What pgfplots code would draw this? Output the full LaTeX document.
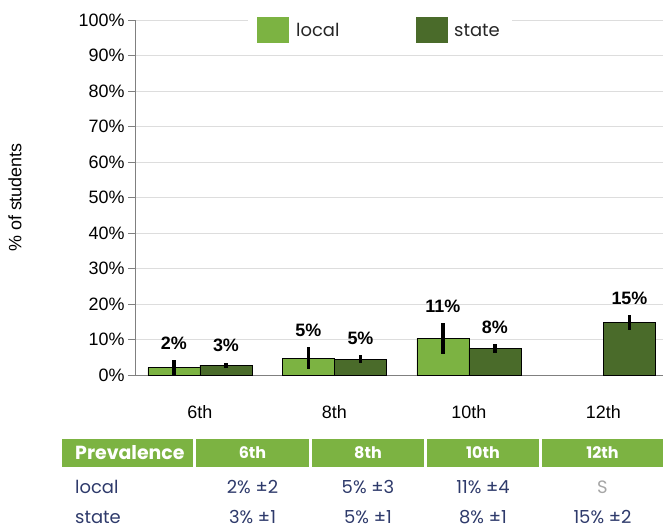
\documentclass[border=0pt]{standalone}
\usepackage{pgfplots}
\pgfplotsset{compat=1.18}
\usepackage{fontspec}
\setmainfont{Liberation Sans}
\newfontfamily\gothic{Poppins}
\definecolor{localc}{HTML}{7CB342}
\definecolor{statec}{HTML}{4A6B2A}
\definecolor{navy}{HTML}{2E3A6B}
\definecolor{axgray}{HTML}{808080}
\definecolor{gridc}{HTML}{DDDDDD}
\begin{document}
\begin{tikzpicture}[x=1bp,y=1bp]
\begin{axis}[at={(135bp,154bp)}, anchor=south west, scale only axis,
  width=528bp, height=355bp,
  xmin=-0.483, xmax=3.443, ymin=0, ymax=100,
  axis x line=bottom, axis y line=left,
  axis line style={draw=axgray, -},
  ytick={0,10,...,100},
  yticklabels={0\%,10\%,20\%,30\%,40\%,50\%,60\%,70\%,80\%,90\%,100\%},
  xtick={0,1,2,3}, xticklabels={6th,8th,10th,12th},
  major x tick style={draw=none},
  tick align=outside, major tick length=7bp,
  y tick style={draw=axgray},
  ymajorgrids, grid style={draw=gridc, line width=0.8bp},
  tick label style={font=\fontsize{18}{20}\selectfont},
  xticklabel style={yshift=-20bp},
  ylabel={\% of students},
  every axis y label/.style={at={(rel axis cs:-0.2273,0.5)}, rotate=90, anchor=center,
     font=\fontsize{18}{20}\selectfont},
  clip=false,
]
\addplot[ybar, bar width=52bp, bar shift=-26bp, fill=localc, draw=black, line width=0.8bp]
  coordinates {(0,2.1) (1,4.7) (2,10.3)};
\addplot[ybar, bar width=52bp, bar shift=26bp, fill=statec, draw=black, line width=0.8bp]
  coordinates {(0,2.8) (1,4.5) (2,7.5) (3,14.8)};
% error bars (at bar centres)
\addplot[draw=none, mark=none,
  error bars/.cd, y dir=both, y explicit, error mark=none,
  error bar style={line width=3.5bp, black}]
  coordinates {(-0.1934,2.1) +- (0,2.0) (0.8066,4.7) +- (0,3.1) (1.8066,10.3) +- (0,4.3)};
\addplot[draw=none, mark=none,
  error bars/.cd, y dir=both, y explicit, error mark=none,
  error bar style={line width=3.5bp, black}]
  coordinates {(0.1934,2.8) +- (0,0.7) (1.1934,4.5) +- (0,1.0) (2.1934,7.5) +- (0,1.2) (3.1934,14.8) +- (0,2.0)};
\addplot[draw=none, mark=none, nodes near coords, point meta=explicit symbolic,
  nodes near coords style={font=\bfseries\fontsize{18}{20}\selectfont, anchor=center, yshift=17bp}]
  coordinates {(-0.1934,4.1) [2\%] (0.1934,3.5) [3\%] (0.8066,7.8) [5\%] (1.1934,5.5) [5\%]
               (1.8066,14.6) [11\%] (2.1934,8.7) [8\%] (3.1934,16.8) [15\%]};
\end{axis}
% legend
\fill[white] (248,481) rectangle (512,517);
\fill[localc] (257,486) rectangle (289,512);
\node[anchor=west, inner sep=0, font=\gothic\fontsize{18}{20}\selectfont, text=black!85] at (296,499) {local};
\fill[statec] (416,486) rectangle (448,512);
\node[anchor=west, inner sep=0, font=\gothic\fontsize{18}{20}\selectfont, text=black!85] at (454,499) {state};
% table
\fill[localc] (62,62) rectangle (193,90);
\fill[localc] (196,62) rectangle (309,90);
\fill[localc] (312,62) rectangle (424,90);
\fill[localc] (427,62) rectangle (539,90);
\fill[localc] (542,62) rectangle (663,90);
\node[anchor=west, inner sep=0, text=white, font=\gothic\bfseries\fontsize{19}{20}\selectfont] at (75,76) {Prevalence};
\foreach \cx/\t in {252.5/6th,368/8th,483/10th,602.5/12th}
  \node[text=white, font=\gothic\bfseries\fontsize{16}{18}\selectfont] at (\cx,76) {\t};
\node[anchor=west, inner sep=0, text=navy, font=\gothic\fontsize{18}{20}\selectfont] at (75,42) {local};
\node[anchor=west, inner sep=0, text=navy, font=\gothic\fontsize{18}{20}\selectfont] at (75,12) {state};
\foreach \cx/\t in {252.5/2\% ±2,368/5\% ±3,483/11\% ±4}
  \node[text=navy, font=\gothic\fontsize{18}{20}\selectfont] at (\cx,42) {\t};
\node[text=gray!70, font=\gothic\fontsize{18}{20}\selectfont] at (602.5,42) {S};
\foreach \cx/\t in {252.5/3\% ±1,368/5\% ±1,483/8\% ±1,602.5/15\% ±2}
  \node[text=navy, font=\gothic\fontsize{18}{20}\selectfont] at (\cx,12) {\t};
\pgfresetboundingbox
\path[use as bounding box] (0,0) rectangle (663,529);
\end{tikzpicture}
\end{document}
